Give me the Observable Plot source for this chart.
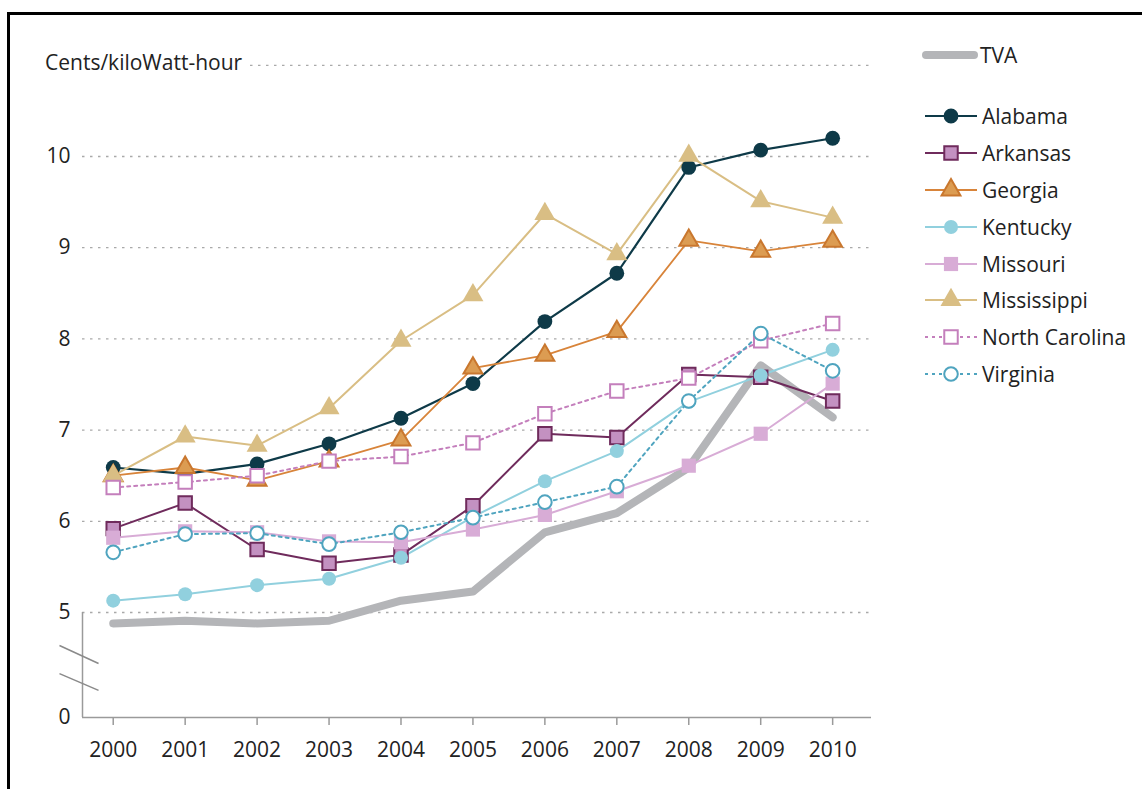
<!DOCTYPE html>
<html><head><meta charset="utf-8">
<script src="https://cdn.jsdelivr.net/npm/d3@7"></script>
<script src="https://cdn.jsdelivr.net/npm/@observablehq/plot@0.6"></script>
<style>
body{margin:0;background:#fff;font-family:"Open Sans",sans-serif;color:#222;}
#wrap{position:relative;width:1142px;height:789px;overflow:hidden;background:#fff;}
#frame{position:absolute;left:7px;top:12px;width:1300px;height:1000px;border-left:3px solid #000;border-top:3px solid #000;}
#chart{position:absolute;left:0;top:0;}
#ylabel{position:absolute;left:45px;top:48px;font-size:21px;line-height:28px;background:#fff;padding-right:8px;color:#222;}
.lg{position:absolute;left:920px;height:30px;display:flex;align-items:center;font-size:21px;color:#222;}
.lg svg{display:block;margin-right:0px;}
</style></head><body>
<div id="wrap"><div id="frame"></div><div id="chart"></div><div id="ylabel">Cents/kiloWatt-hour</div><div id="legend"></div></div>
<script>
const years = [2000, 2001, 2002, 2003, 2004, 2005, 2006, 2007, 2008, 2009, 2010];
const yTicks = [0, 5, 6, 7, 8, 9, 10];
const gridValues = [5, 6, 7, 8, 9, 10, 11];
const tva          = [4.88, 4.91, 4.88, 4.91, 5.13, 5.23, 5.88, 6.09, 6.59, 7.71, 7.14];
const alabama      = [6.59, 6.52, 6.63, 6.85, 7.13, 7.51, 8.19, 8.72, 9.88, 10.07, 10.2];
const arkansas     = [5.92, 6.20, 5.69, 5.54, 5.63, 6.17, 6.96, 6.92, 7.61, 7.58, 7.32];
const georgia      = [6.50, 6.59, 6.45, 6.66, 6.89, 7.68, 7.82, 8.08, 9.08, 8.96, 9.07];
const kentucky     = [5.13, 5.20, 5.30, 5.37, 5.60, 6.05, 6.44, 6.77, 7.31, 7.60, 7.88];
const missouri     = [5.82, 5.89, 5.88, 5.78, 5.77, 5.91, 6.07, 6.33, 6.61, 6.96, 7.51];
const mississippi  = [6.50, 6.93, 6.83, 7.24, 7.98, 8.48, 9.37, 8.93, 10.01, 9.51, 9.33];
const northCarolina= [6.37, 6.43, 6.50, 6.66, 6.71, 6.86, 7.18, 7.43, 7.57, 7.98, 8.17];
const virginia     = [5.66, 5.86, 5.87, 5.75, 5.88, 6.04, 6.21, 6.38, 7.32, 8.06, 7.65];

const series = [
  {name: "Alabama", values: alabama, line: "#0e3a48", fill: "#0e3a48", mstroke: "none", symbol: "circle", r: 7.4, width: 2.2, dash: null},
  {name: "Arkansas", values: arkansas, line: "#6f2b5c", fill: "#c391c1", mstroke: "#6f2b5c", symbol: "square", r: 7.6, width: 2, dash: null},
  {name: "Georgia", values: georgia, line: "#d8843a", fill: "#dc9c52", mstroke: "#c9772e", symbol: "triangle", r: 7, width: 1.8, dash: null},
  {name: "Kentucky", values: kentucky, line: "#91d0de", fill: "#91d0de", mstroke: "none", symbol: "circle", r: 7, width: 2, dash: null},
  {name: "Missouri", values: missouri, line: "#d8acd6", fill: "#d8acd6", mstroke: "none", symbol: "square", r: 8, width: 2, dash: null},
  {name: "Mississippi", values: mississippi, line: "#d9be84", fill: "#d9be84", mstroke: "none", symbol: "triangle", r: 7.8, width: 2, dash: null},
  {name: "North Carolina", values: northCarolina, line: "#c47fbc", fill: "#ffffff", mstroke: "#c47fbc", symbol: "square", r: 7.6, width: 2, dash: "3,4"},
  {name: "Virginia", values: virginia, line: "#4fa4bf", fill: "#ffffff", mstroke: "#4fa4bf", symbol: "circle", r: 6.8, width: 2, dash: "3,4"}
];
const tvaColor = "#b4b5b8";

// Broken axis: values below the break are compressed into a short segment.
const breakAt = 4.7, lowSpan = 0.851;
const brk = v => v >= breakAt ? v : (breakAt - lowSpan) + v * lowSpan / breakAt;

const toRows = (vals) => years.map((year, i) => ({year, value: brk(vals[i])}));

const xDomain = [1999.573, 2010.54];
const marks = [
  Plot.ruleY(gridValues.map(brk), {stroke: "#a9a9a9", strokeWidth: 1.3, strokeDasharray: "2.5,5.5"}),
  Plot.ruleY([brk(0)], {stroke: "#9a9a9a", strokeWidth: 1.5}),
  Plot.ruleX([xDomain[0]], {y1: brk(0), y2: brk(5), stroke: "#9a9a9a", strokeWidth: 1.5}),
  Plot.link([{a: 1999.253, b: 4.36, c: 1999.796, d: 3.27}, {a: 1999.253, b: 2.66, c: 1999.796, d: 1.64}],
    {x1: "a", y1: d => brk(d.b), x2: "c", y2: d => brk(d.d), stroke: "#8a8a8a", strokeWidth: 1.5}),
  Plot.axisX({ticks: years, tickFormat: d => String(d), tickSize: 8, tickPadding: 17, stroke: "#9a9a9a", fill: "#222", fontSize: 21, strokeWidth: 1.5, label: null}),
  Plot.axisY({ticks: yTicks.map(brk), tickFormat: (d, i) => String(yTicks[i]), tickSize: 0, tickPadding: 12, fill: "#222", fontSize: 21, label: null}),
  Plot.line(toRows(tva), {x: "year", y: "value", stroke: tvaColor, strokeWidth: 8, strokeLinecap: "round", strokeLinejoin: "round"})
];
for (const s of series) {
  marks.push(Plot.line(toRows(s.values), {x: "year", y: "value", stroke: s.line, strokeWidth: s.width, strokeDasharray: s.dash}));
}
for (const s of series) {
  marks.push(Plot.dot(toRows(s.values), {x: "year", y: "value", symbol: s.symbol, r: s.r, fill: s.fill, stroke: s.mstroke, strokeWidth: 2}));
}

const chart = Plot.plot({
  width: 1142, height: 789,
  marginLeft: 82, marginRight: 271, marginTop: 64.8, marginBottom: 72,
  style: {fontFamily: "'Open Sans', sans-serif", fontSize: "21px", background: "transparent", overflow: "visible"},
  x: {domain: xDomain, range: [82, 871], axis: null, label: null},
  y: {domain: [brk(0), 11], range: [717, 64.8], axis: null, label: null},
  marks
});
document.getElementById("chart").appendChild(chart);

// Legend
const legend = document.getElementById("legend");
const symPath = (type, r) => d3.symbol(type === "circle" ? d3.symbolCircle : type === "square" ? d3.symbolSquare : d3.symbolTriangle, Math.PI * r * r)();
const tvaRow = document.createElement("div");
tvaRow.className = "lg";
tvaRow.style.top = (55 - 15) + "px";
tvaRow.innerHTML = `<svg width="60" height="30"><line x1="6" y1="15" x2="54" y2="15" stroke="${tvaColor}" stroke-width="8" stroke-linecap="round"/></svg><span>TVA</span>`;
legend.appendChild(tvaRow);
const legendTops = [116, 153, 190, 227, 264, 300, 337, 374];
series.forEach((s, i) => {
  const row = document.createElement("div");
  row.className = "lg";
  row.style.top = (legendTops[i] - 15) + "px";
  const dash = s.dash ? `stroke-dasharray="${s.dash}"` : "";
  row.innerHTML = `<svg width="62" height="30"><line x1="5" y1="15" x2="57" y2="15" stroke="${s.line}" stroke-width="${s.width}" ${dash}/>` +
    `<path transform="translate(31,15)" d="${symPath(s.symbol, s.r)}" fill="${s.fill}" stroke="${s.mstroke}" stroke-width="2"/></svg><span>${s.name}</span>`;
  legend.appendChild(row);
});
</script>
</body></html>
